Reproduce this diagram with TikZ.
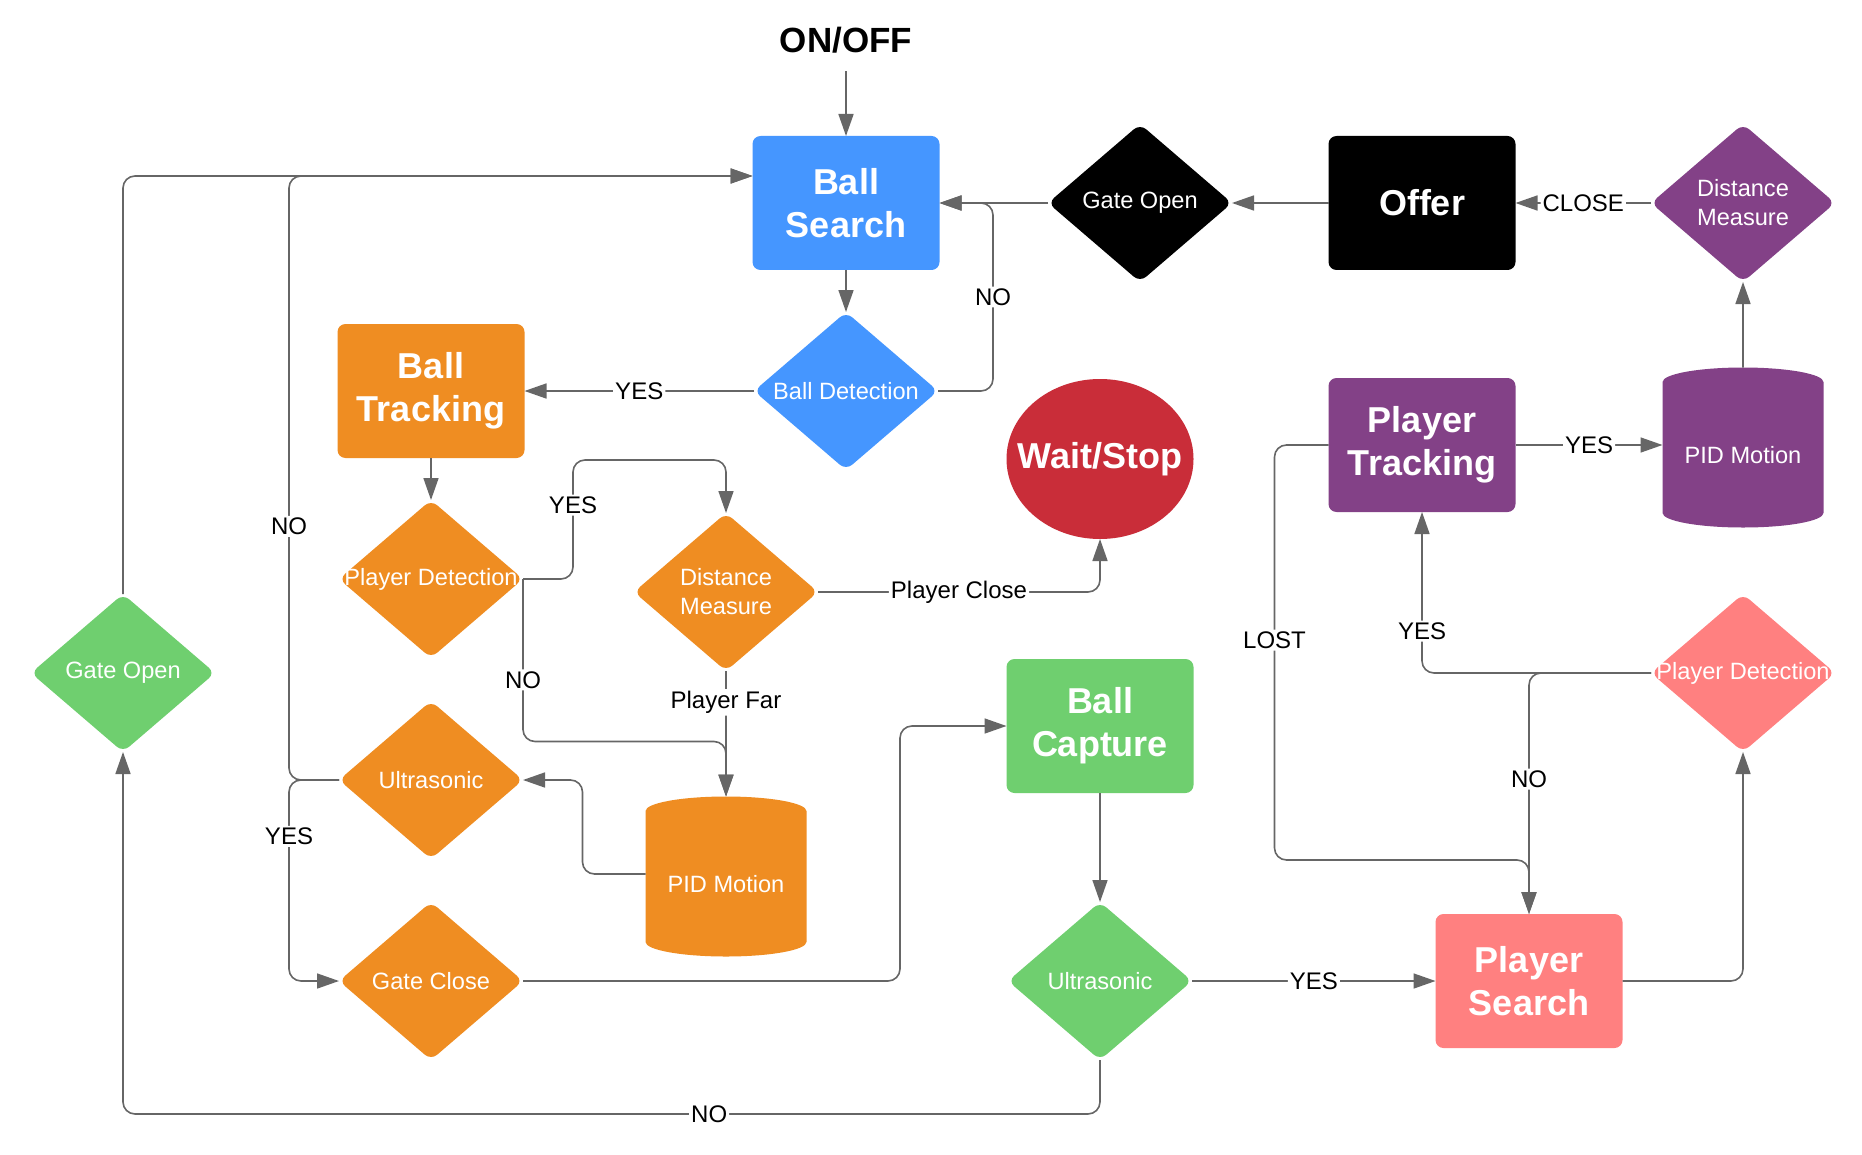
\documentclass[tikz,border=0pt]{standalone}
\usepackage{fontspec}
\setmainfont{Liberation Sans}
\usetikzlibrary{shapes.geometric,arrows.meta,calc}

\definecolor{ballblue}{HTML}{4596FF}
\definecolor{ballorange}{HTML}{EF8D22}
\definecolor{ballgreen}{HTML}{6FCF6F}
\definecolor{stopred}{HTML}{C92D39}
\definecolor{playerpurple}{HTML}{834187}
\definecolor{playerpink}{HTML}{FF8080}
\definecolor{linegray}{HTML}{666666}

\begin{document}
\begin{tikzpicture}[x=0.5pt, y=-0.5pt,
  box/.style={rectangle, rounded corners=4pt, inner sep=0pt, outer sep=0pt,
    minimum width=93.5pt, minimum height=67pt, text=white, align=center,
    font=\bfseries\fontsize{18}{21.5}\selectfont},
  dia/.style={diamond, rounded corners=4pt, inner sep=0pt, outer sep=0pt,
    minimum width=92pt, minimum height=79pt},
  dtext/.style={text=white, align=center, inner sep=0pt, font=\fontsize{11.8}{14.5}\selectfont},
  drum/.style={cylinder, shape border rotate=90, aspect=0.25, inner sep=0pt, outer sep=0pt,
    minimum width=80.5pt, minimum height=80pt, text=white, font=\fontsize{11.8}{13}\selectfont},
  conn/.style={draw=linegray, line width=0.8pt, rounded corners=6pt,
    -{Triangle[length=11pt, width=7.5pt]}},
  lbl/.style={fill=white, inner sep=1pt, font=\fontsize{12}{14}\selectfont}]

% Canvas (same size as the reference)
\fill[white] (0,0) rectangle (1862,1155);

% Start
\node[font=\bfseries\fontsize{17.5}{19}\selectfont, inner sep=0pt] (onoff) at (846,40) {ON/OFF};

% Ball search (blue)
\node[box, fill=ballblue] (bsearch) at (846,203) {Ball\\Search};
\node[dia, fill=ballblue, label={[dtext]center:Ball Detection}] (bdet) at (846,391) {};

% Ball tracking (orange)
\node[box, fill=ballorange] (btrack) at (431,391) {Ball\\Tracking};
\node[dia, fill=ballorange, label={[dtext]center:Player Detection}] (odet) at (431,579) {};
\node[dia, fill=ballorange, label={[dtext]center:{Distance\\Measure}}] (odist) at (726,592) {};
\node[dia, fill=ballorange, label={[dtext]center:Ultrasonic}] (ous) at (431,780) {};
\node[dia, fill=ballorange, label={[dtext]center:Gate Close}] (gclose) at (431,981) {};
\node[drum, fill=ballorange] (opid) at (726,884) {PID Motion};

% Ball capture (green)
\node[dia, fill=ballgreen, label={[dtext]center:Gate Open}] (ggate) at (123,673) {};
\node[box, fill=ballgreen] (bcap) at (1100,726) {Ball\\Capture};
\node[dia, fill=ballgreen, label={[dtext]center:Ultrasonic}] (gus) at (1100,981) {};

% Offer and stop
\node[dia, fill=black, label={[dtext]center:Gate Open}] (gopen) at (1140,203) {};
\node[box, fill=black] (offer) at (1422,203) {Offer};
\node[ellipse, fill=stopred, inner sep=0pt, outer sep=0pt, minimum width=93.5pt, minimum height=80pt,
  label={[text=white, font=\bfseries\fontsize{18}{20}\selectfont]center:Wait/Stop}] (wait) at (1100,459) {};

% Player tracking (purple)
\node[dia, fill=playerpurple, label={[dtext]center:{Distance\\Measure}}] (pdist) at (1743,203) {};
\node[box, fill=playerpurple] (ptrack) at (1422,445) {Player\\Tracking};
\node[drum, fill=playerpurple] (ppid) at (1743,455) {PID Motion};

% Player search (pink)
\node[dia, fill=playerpink, label={[dtext]center:Player Detection}] (pdet) at (1743,673) {};
\node[box, fill=playerpink] (psearch) at (1529,981) {Player\\Search};

% Connectors
\draw[conn] (onoff.south) ++(0,18) -- (bsearch.north);
\draw[conn] (bsearch.south) -- (bdet.north);
\draw[conn] (bdet.west) -- node[lbl] (yes1) {YES} (btrack.east);
\draw[conn] (bdet.east) -- ++(55,0) |- node[lbl, pos=0.25] (no1) {NO} (bsearch.east);
\draw[conn] (gopen.west) -- (bsearch.east);
\draw[conn] (offer.west) -- (gopen.east);
\draw[conn] (pdist.west) -- node[lbl] (close) {CLOSE} (offer.east);
\draw[conn] (ppid.north) -- (pdist.south);
\draw[conn] (ptrack.east) -- node[lbl] (yes2) {YES} (ptrack.east -| ppid.west);
\draw[conn] (ptrack.west) -- ++(-54,0) -- node[lbl, pos=0.47] (lost) {LOST} ++(0,415) -| (psearch.north);
\draw[conn] (pdet.west) -| node[lbl, pos=0.63] (yes3) {YES} (ptrack.south);
\draw[conn] (pdet.west) -| node[lbl, pos=0.72] (no2) {NO} (psearch.north);
\draw[conn] (psearch.east) -| (pdet.south);
\draw[conn] (gus.east) -- node[lbl] (yes4) {YES} (psearch.west);
\draw[conn] (bcap.south) -- (gus.north);
\draw[conn] (gus.south) -- ++(0,54) -| node[lbl, pos=0.2] (no3) {NO} (ggate.south);
\draw[conn] (ggate.north) |- ($(bsearch.west)+(0,-27)$);
\draw[conn] (ous.west) -- ++(-50,0) |- node[lbl, pos=0.21] (no4) {NO} ($(bsearch.west)+(0,-27)$);
\draw[conn] (ous.west) -- ++(-50,0) |- node[lbl, pos=0.14] (yes5) {YES} (gclose.west);
\draw[conn] ($(opid.west)+(0,-10)$) -- ++(-63,0) |- (ous.east);
\draw[conn] (btrack.south) -- (odet.north);
\draw[conn] (odet.east) -- ++(50,0) |- node[lbl, pos=0.31] (yes6) {YES} ($(odist.north)+(0,-53)$) -- (odist.north);
\draw[conn] (odet.east) |- node[lbl, pos=0.31] (no5) {NO} ($(opid.north)+(0,-55)$) -- (opid.north);
\draw[conn] (odist.south) -- node[lbl, pos=0.25] (far) {Player Far} (opid.north);
\draw[conn] (odist.east) -| node[lbl, pos=0.25] (near) {Player Close} (wait.south);
\draw[conn] (gclose.east) -- ++(377,0) |- (bcap.west);
\end{tikzpicture}
\end{document}
